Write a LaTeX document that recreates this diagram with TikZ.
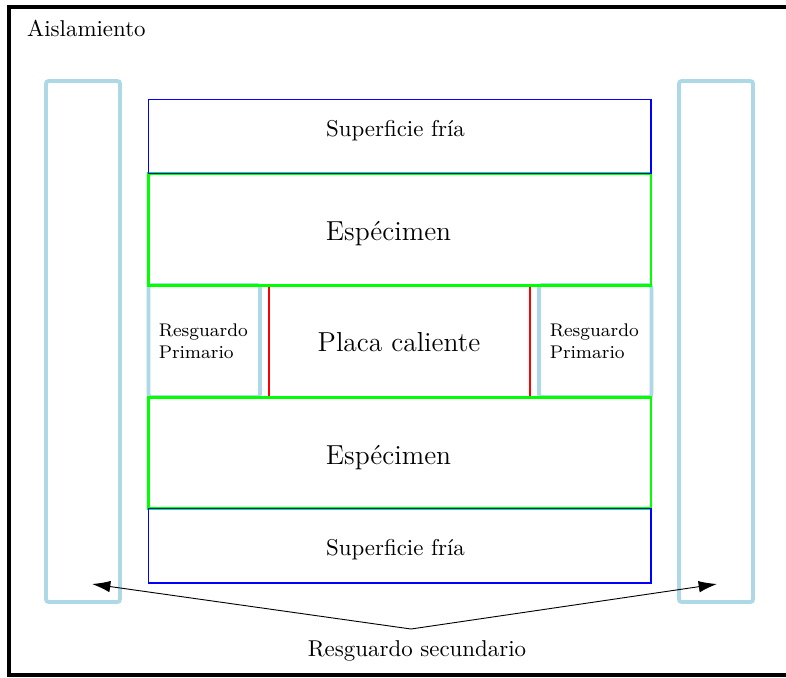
\documentclass[tikz,border=0pt]{standalone}
\usetikzlibrary{arrows.meta}
\definecolor{lblue}{RGB}{173,216,230}
\definecolor{lgreen}{RGB}{0,255,0}
\newcommand\pxu{0.4367pt}
\begin{document}
\begin{tikzpicture}[x=0.4367pt,y=-0.4367pt,
  frameline/.style={draw=black,line width=1.9pt},
  shield/.style={draw=lblue,line width=1.7pt,rounded corners=1.2pt,inner sep=0pt},
  coldbox/.style={draw=blue,line width=0.85pt,inner sep=0pt},
  specbox/.style={draw=lgreen,line width=1.3pt,inner sep=0pt},
  platebox/.style={draw=red,line width=0.6pt,inner sep=0pt},
  txt/.style={inner sep=0pt,anchor=base},
  arr/.style={-{Latex[length=8pt,width=5pt]},line width=0.4pt}]
\useasboundingbox (0,0) rectangle (786,677);
% outer insulation frame
\draw[frameline] (8.8,6.7) rectangle (792,675.3);
\node[txt,anchor=base west] (aisl) at (26.7,36.7) {Aislamiento};
% secondary shields
\node[shield,minimum width=74*\pxu,minimum height=521*\pxu] (secL) at (83,341.5) {};
\node[shield,minimum width=74*\pxu,minimum height=521*\pxu] (secR) at (716,341.5) {};
% middle row
\node[shield,minimum width=111.5*\pxu,minimum height=112*\pxu] (rp1) at (204.25,341) {};
\node[shield,minimum width=112.5*\pxu,minimum height=112*\pxu] (rp2) at (595.25,341) {};
\node[platebox,minimum width=261*\pxu,minimum height=112*\pxu] (placa) at (399.5,341) {};
% specimens
\node[specbox,minimum width=502.5*\pxu,minimum height=111.5*\pxu] (esp1) at (399.75,229.25) {};
\node[specbox,minimum width=502.5*\pxu,minimum height=111.5*\pxu] (esp2) at (399.75,452.75) {};
% cold surfaces
\node[coldbox,minimum width=502.5*\pxu,minimum height=74*\pxu] (sup1) at (399.75,136.5) {};
\node[coldbox,minimum width=502.5*\pxu,minimum height=74.5*\pxu] (sup2) at (399.75,545.75) {};
% texts
\node[txt] (tsup1) at (395.5,136.7) {Superficie fría};
\node[txt] (tsup2) at (395.5,555.7) {Superficie fría};
\node[txt,font=\large] (tesp1) at (388.5,240) {Espécimen};
\node[txt,font=\large] (tesp2) at (388.5,464) {Espécimen};
\node[txt,font=\large] (tplaca) at (399,351) {Placa caliente};
\node[inner sep=0pt,anchor=north west,align=left,font=\footnotesize] (trp1) at (158.3,323.3) {Resguardo\\Primario};
\node[inner sep=0pt,anchor=north west,align=left,font=\footnotesize] (trp2) at (549.3,323.3) {Resguardo\\Primario};
% secondary shield label and arrows
\node[txt] (tsec) at (417,656.7) {Resguardo secundario};
\coordinate (apex) at (411,629);
\coordinate (tipL) at (92,584);
\coordinate (tipR) at (717,584);
\draw[arr] (apex) -- (tipL);
\draw[arr] (apex) -- (tipR);
\end{tikzpicture}
\end{document}
